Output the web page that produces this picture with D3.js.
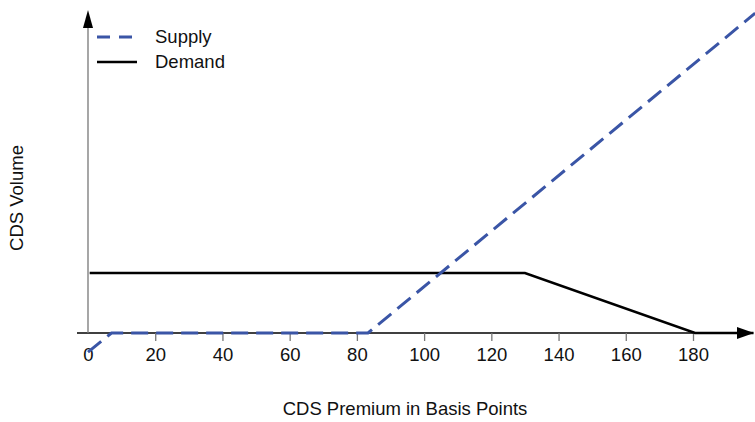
<!DOCTYPE html>
<html><head><meta charset="utf-8">
<script src="https://cdn.jsdelivr.net/npm/d3@7"></script>
<style>body{margin:0;background:#fff}svg{display:block;font-family:"Liberation Sans",Arial,sans-serif}</style>
</head><body><svg id="c" width="755" height="422"></svg>
<script>
const xTicks = [0, 20, 40, 60, 80, 100, 120, 140, 160, 180];
const supplyX = [0, 7, 83.3, 198.5];
const supplyY = [-0.32, 0, 0, 5.33];
const demandX = [0.5, 130, 180.6, 198];
const demandY = [1, 1, 0, 0];
const seriesNames = ["Supply", "Demand"];

const svg = d3.select("#c");
const x = d3.scaleLinear().domain([0, 180]).range([88, 693]);
const y = d3.scaleLinear().domain([0, 1]).range([333, 273]);
const FS = 18.5;

svg.append("line").attr("x1", 77).attr("x2", 738).attr("y1", y(0)).attr("y2", y(0)).attr("stroke", "#000").attr("stroke-width", 1.3);
svg.append("path").attr("d", `M737,${y(0)-6}L754,${y(0)}L737,${y(0)+6}Z`).attr("fill", "#000");
svg.append("line").attr("x1", x(0)).attr("x2", x(0)).attr("y1", 25).attr("y2", y(0)).attr("stroke", "#777").attr("stroke-width", 1.3);
svg.append("path").attr("d", `M${x(0)-5},28L${x(0)},10L${x(0)+5},28Z`).attr("fill", "#000");

const xa = d3.axisBottom(x).tickValues(xTicks).tickSize(8).tickPadding(7).tickFormat(d3.format("d"));
const g = svg.append("g").attr("transform", `translate(0,${y(0)})`).call(xa);
g.select(".domain").remove();
g.selectAll(".tick line").attr("stroke", "#777").attr("stroke-width", 1.3).filter(d => d === 0).remove();
g.selectAll(".tick text").attr("font-size", FS).attr("fill", "#111").attr("font-family", "Liberation Sans, Arial, sans-serif");

const line = d3.line().x(d => x(d[0])).y(d => y(d[1]));
const demand = demandX.map((v, i) => [v, demandY[i]]);
const supply = supplyX.map((v, i) => [v, supplyY[i]]);
svg.append("path").datum(demand).attr("d", line).attr("fill", "none").attr("stroke", "#000").attr("stroke-width", 2.6);
svg.append("path").datum(supply).attr("d", line).attr("fill", "none").attr("stroke", "#3a55a6").attr("stroke-width", 3).attr("stroke-dasharray", "17,8");

const lg = svg.append("g");
lg.append("line").attr("x1", 97).attr("x2", 137).attr("y1", 37).attr("y2", 37).attr("stroke", "#3a55a6").attr("stroke-width", 3).attr("stroke-dasharray", "13,9");
lg.append("line").attr("x1", 97).attr("x2", 137).attr("y1", 62).attr("y2", 62).attr("stroke", "#000").attr("stroke-width", 2.6);
lg.selectAll("text").data(seriesNames).join("text").attr("x", 155).attr("y", (d, i) => 37 + i * 25).attr("dy", "0.35em").attr("font-size", FS).attr("fill", "#111").text(d => d);

svg.append("text").attr("x", 405).attr("y", 409).attr("dy", "0.35em").attr("text-anchor", "middle").attr("font-size", FS).attr("fill", "#111").text("CDS Premium in Basis Points");
svg.append("text").attr("transform", "translate(17,198) rotate(-90)").attr("dy", "0.35em").attr("text-anchor", "middle").attr("font-size", FS).attr("fill", "#111").text("CDS Volume");
</script></body></html>
